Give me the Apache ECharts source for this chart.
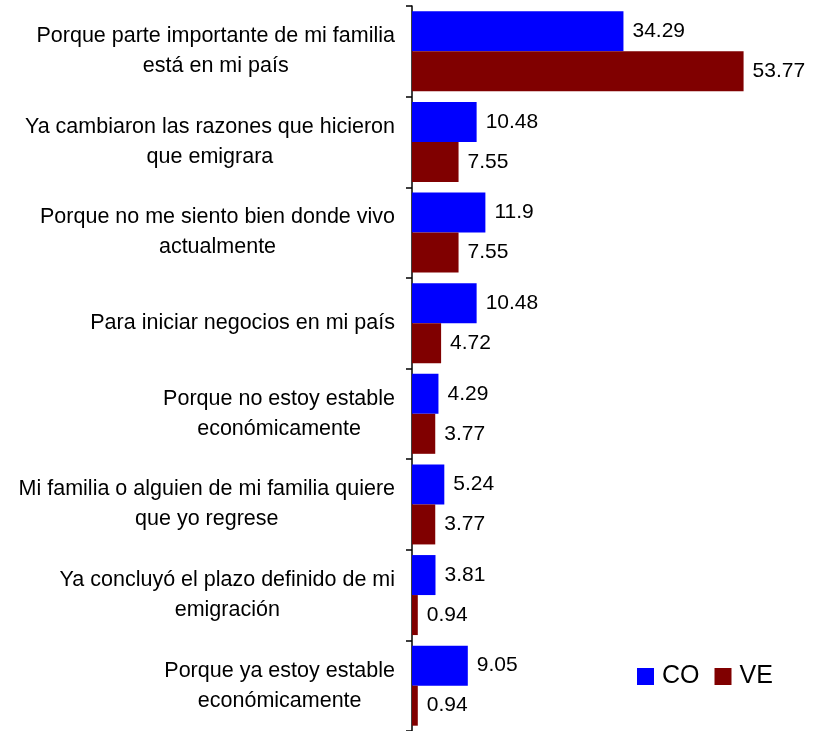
<!DOCTYPE html>
<html><head><meta charset="utf-8">
<script src="https://cdn.jsdelivr.net/npm/echarts@6/dist/echarts.min.js"></script>
<style>html,body{margin:0;padding:0;background:#fff}#c{width:823px;height:731px}</style>
</head><body><div id="c"></div>
<script>
const categories = [
  "Porque parte importante de mi familia\nestá en mi país",
  "Ya cambiaron las razones que hicieron\nque emigrara",
  "Porque no me siento bien donde vivo\nactualmente",
  "Para iniciar negocios en mi país",
  "Porque no estoy estable\neconómicamente",
  "Mi familia o alguien de mi familia quiere\nque yo regrese",
  "Ya concluyó el plazo definido de mi\nemigración",
  "Porque ya estoy estable\neconómicamente"
];
const seriesNames = ["CO", "VE"];
const valuesCO = [34.29, 10.48, 11.9, 10.48, 4.29, 5.24, 3.81, 9.05];
const valuesVE = [53.77, 7.55, 7.55, 4.72, 3.77, 3.77, 0.94, 0.94];
const colors = ["#0000FF", "#800000"];

const FONT = "Liberation Sans, Arial, sans-serif";
const chart = echarts.init(document.getElementById('c'), null, {renderer: 'canvas'});
const labelStyle = {
  show: true, position: 'right', distance: 9,
  color: '#000', fontFamily: FONT, fontSize: 21,
  formatter: p => String(p.value)
};
chart.setOption({
  animation: false,
  backgroundColor: '#fff',
  grid: {left: 412, right: 41, top: 6, bottom: 0, containLabel: false},
  legend: {
    data: seriesNames, left: 637, top: 664, itemWidth: 17, itemHeight: 17, itemGap: 15,
    icon: 'rect', padding: 0,
    textStyle: {fontFamily: FONT, fontSize: 25, color: '#000', lineHeight: 17, padding: [0, 0, 0, 3]}
  },
  xAxis: {type: 'value', min: 0, max: 60, show: false},
  yAxis: {
    type: 'category', data: categories, inverse: true,
    axisLine: {show: true, lineStyle: {color: '#000', width: 1.5}},
    axisTick: {show: true, length: 6, lineStyle: {color: '#000', width: 1.5}},
    axisLabel: {
      margin: 17, align: 'right', fontFamily: FONT, fontSize: 21.5, color: '#000',
      lineHeight: 30,
      formatter: v => v.split('\n').map(l => '{c|' + l + '}').join('\n'),
      rich: {c: {align: 'center', fontFamily: FONT, fontSize: 21.5, color: '#000', lineHeight: 30}}
    }
  },
  series: [
    {name: seriesNames[0], type: 'bar', data: valuesCO, barWidth: 40, barGap: '0%',
     itemStyle: {color: colors[0]}, label: labelStyle},
    {name: seriesNames[1], type: 'bar', data: valuesVE, barWidth: 40, barGap: '0%',
     itemStyle: {color: colors[1]}, label: labelStyle}
  ]
});
</script></body></html>
